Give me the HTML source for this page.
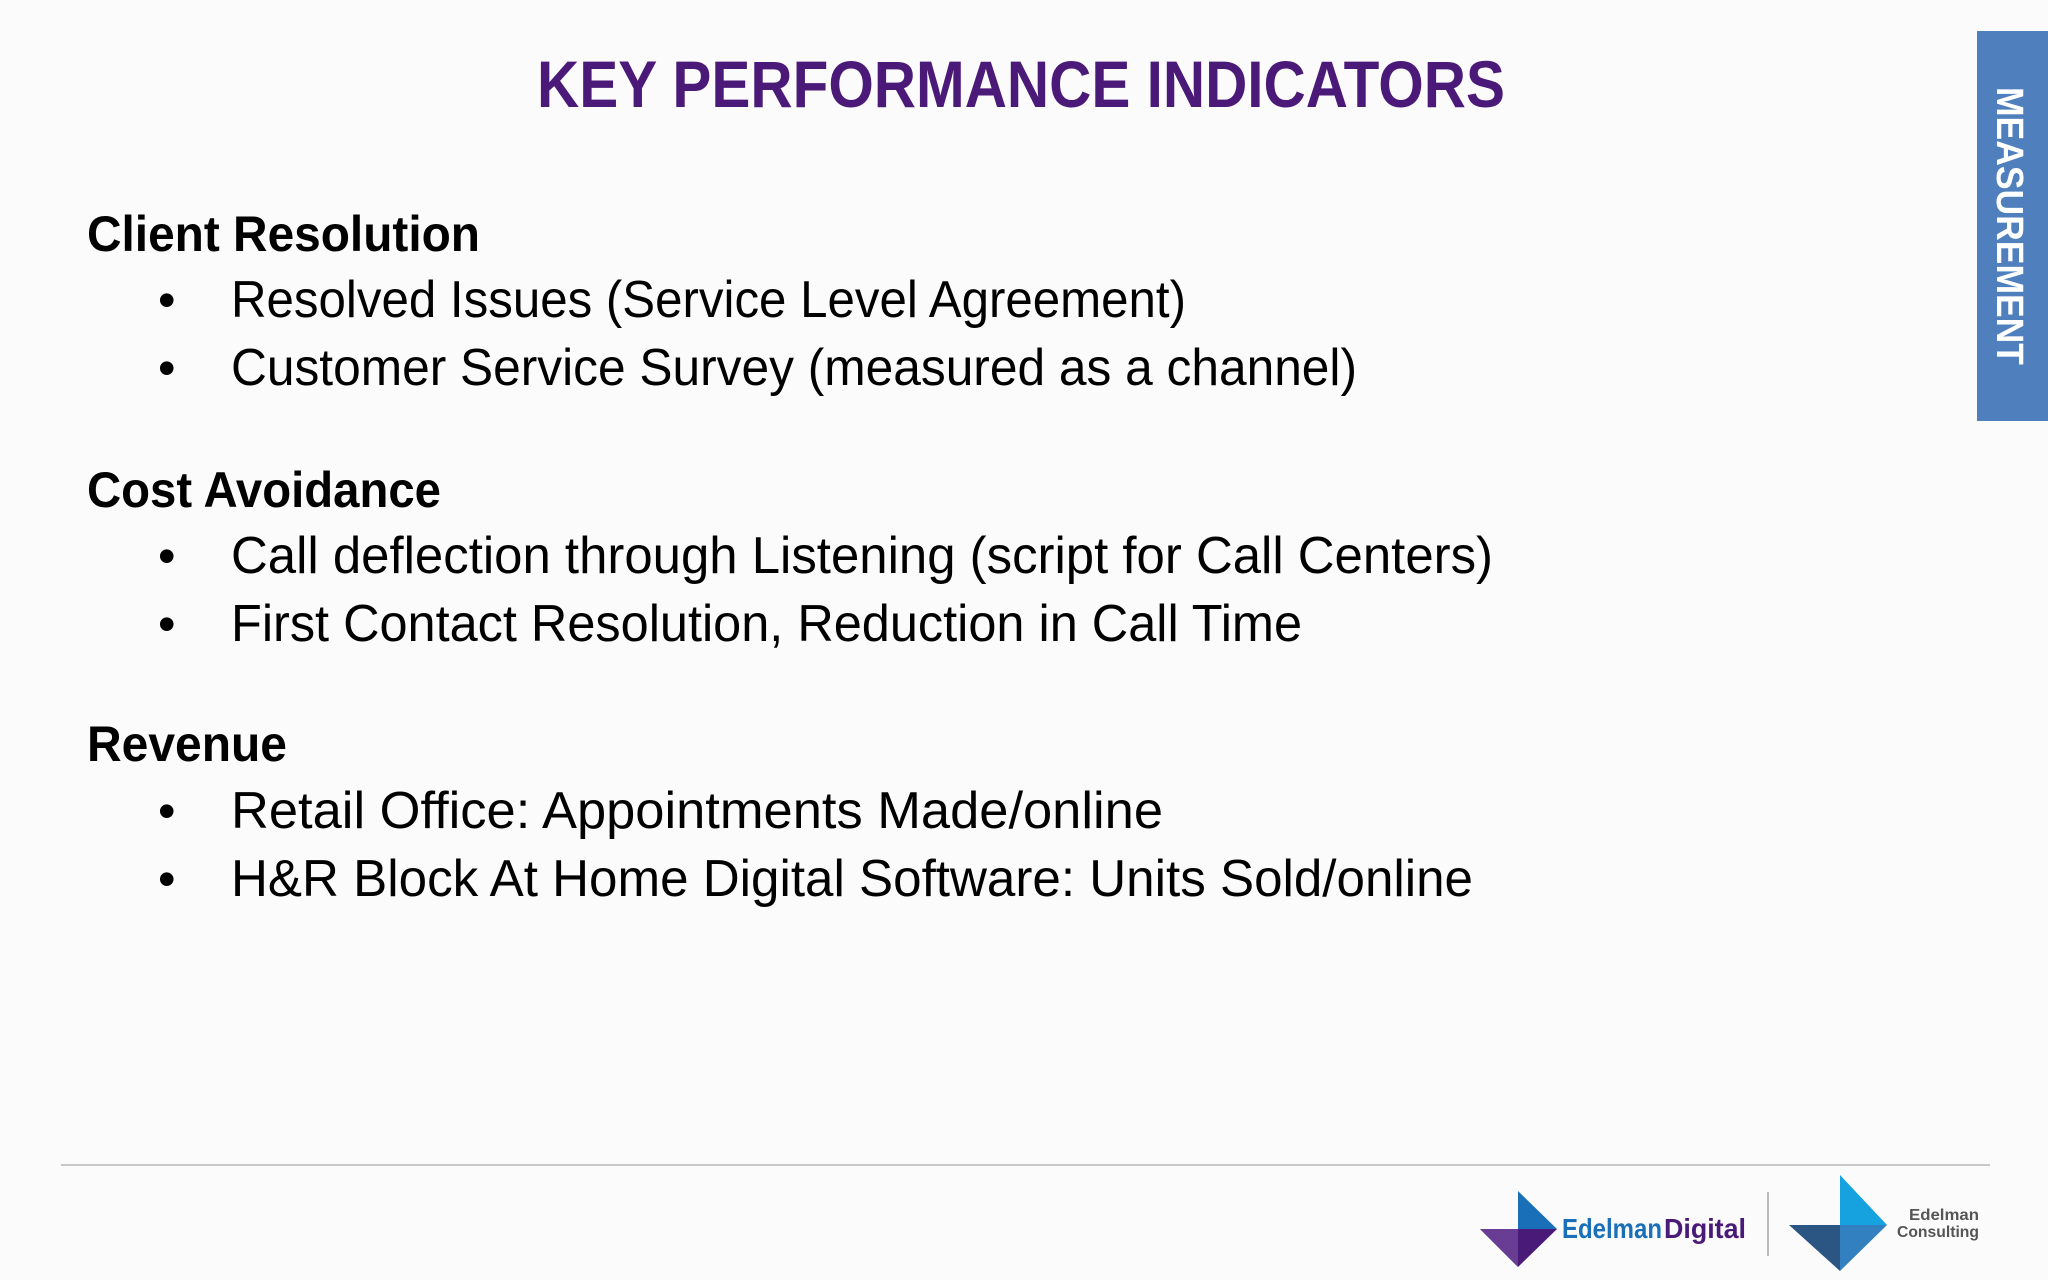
<!DOCTYPE html>
<html><head><meta charset="utf-8"><style>
html,body{margin:0;padding:0;background:#fbfbfc;}
svg{display:block;}
</style></head><body>
<svg width="2048" height="1280" viewBox="0 0 2048 1280" xmlns="http://www.w3.org/2000/svg" font-family="'Liberation Sans', sans-serif">
<rect width="2048" height="1280" fill="#fbfbfc"/>
<text x="537" y="107" font-size="66" font-weight="bold" fill="#4b1a78" textLength="968" lengthAdjust="spacingAndGlyphs">KEY PERFORMANCE INDICATORS</text>

<g>
<text x="87" y="251" font-size="50" font-weight="bold" fill="#000" textLength="393" lengthAdjust="spacingAndGlyphs">Client Resolution</text>
<text x="158" y="317" font-size="50" fill="#000">•</text>
<text x="231" y="317" font-size="52" fill="#000" textLength="955" lengthAdjust="spacingAndGlyphs">Resolved Issues (Service Level Agreement)</text>
<text x="158" y="385" font-size="50" fill="#000">•</text>
<text x="231" y="385" font-size="52" fill="#000" textLength="1126" lengthAdjust="spacingAndGlyphs">Customer Service Survey (measured as a channel)</text>
</g>

<g>
<text x="87" y="507" font-size="50" font-weight="bold" fill="#000" textLength="354" lengthAdjust="spacingAndGlyphs">Cost Avoidance</text>
<text x="158" y="573" font-size="50" fill="#000">•</text>
<text x="231" y="573" font-size="52" fill="#000" textLength="1262" lengthAdjust="spacingAndGlyphs">Call deflection through Listening (script for Call Centers)</text>
<text x="158" y="641" font-size="50" fill="#000">•</text>
<text x="231" y="641" font-size="52" fill="#000" textLength="1071" lengthAdjust="spacingAndGlyphs">First Contact Resolution, Reduction in Call Time</text>
</g>

<g>
<text x="87" y="761" font-size="50" font-weight="bold" fill="#000" textLength="200" lengthAdjust="spacingAndGlyphs">Revenue</text>
<text x="158" y="828" font-size="50" fill="#000">•</text>
<text x="231" y="828" font-size="52" fill="#000" textLength="932" lengthAdjust="spacingAndGlyphs">Retail Office: Appointments Made/online</text>
<text x="158" y="896" font-size="50" fill="#000">•</text>
<text x="231" y="896" font-size="52" fill="#000" textLength="1242" lengthAdjust="spacingAndGlyphs">H&amp;R Block At Home Digital Software: Units Sold/online</text>
</g>

<g>
<rect x="1977" y="31" width="71" height="390" fill="#4f7fbd"/>
<text transform="translate(1997,87) rotate(90)" font-size="38" font-weight="bold" fill="#fff" textLength="278" lengthAdjust="spacingAndGlyphs">MEASUREMENT</text>
</g>

<line x1="61" y1="1165" x2="1990" y2="1165" stroke="#c8c8c8" stroke-width="2"/>

<g>
<polygon points="1480,1229 1557,1229 1518,1267" fill="#4a1a78"/>
<polygon points="1480,1229 1518,1229 1518,1267" fill="#6a3d94"/>
<polygon points="1518,1191 1557,1229 1518,1229" fill="#1a70b8"/>
<text x="1562" y="1238" font-size="28" font-weight="bold" fill="#1a70b8" textLength="100" lengthAdjust="spacingAndGlyphs">Edelman</text>
<text x="1664" y="1238" font-size="28" font-weight="bold" fill="#4a1a78" textLength="82" lengthAdjust="spacingAndGlyphs">Digital</text>
</g>
<line x1="1768" y1="1192" x2="1768" y2="1256" stroke="#bbb" stroke-width="2"/>
<g>
<polygon points="1789,1225 1840,1225 1840,1271" fill="#2b5583"/>
<polygon points="1840,1225 1887,1225 1840,1271" fill="#3380c0"/>
<polygon points="1840,1175 1887,1225 1840,1225" fill="#16a2de"/>
<text x="1979" y="1220" font-size="16" font-weight="bold" fill="#555" text-anchor="end" textLength="70" lengthAdjust="spacingAndGlyphs">Edelman</text>
<text x="1979" y="1237" font-size="16" font-weight="bold" fill="#555" text-anchor="end" textLength="82" lengthAdjust="spacingAndGlyphs">Consulting</text>
</g>
</svg>
</body></html>
